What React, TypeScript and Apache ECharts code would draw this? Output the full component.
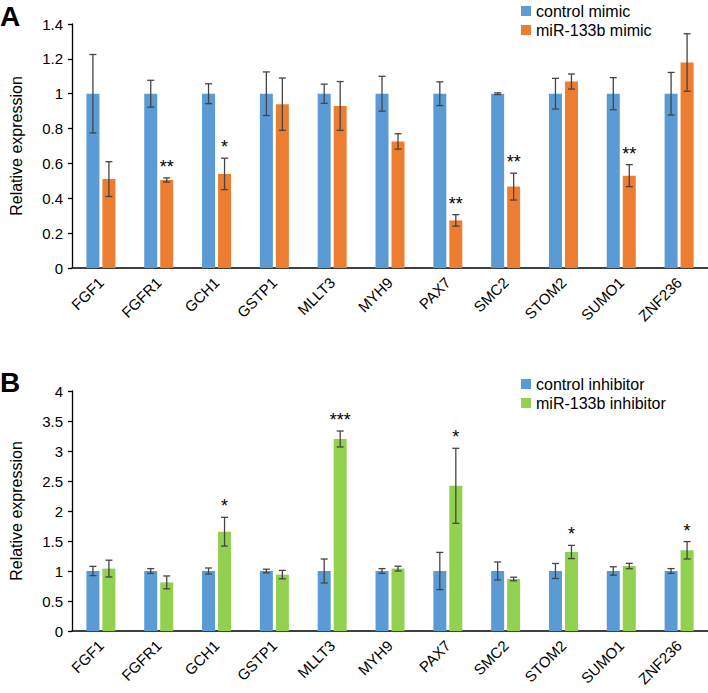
import React, { useEffect, useRef } from "react";
import * as echarts from "echarts";

const genes = ["FGF1", "FGFR1", "GCH1", "GSTP1", "MLLT3", "MYH9", "PAX7", "SMC2", "STOM2", "SUMO1", "ZNF236"];

// Panel A
const controlMimic = [1, 1, 1, 1, 1, 1, 1, 1, 1, 1, 1];
const controlMimicErr = [0.225, 0.077, 0.057, 0.125, 0.055, 0.1, 0.068, 0.005, 0.088, 0.092, 0.122];
const mimic = [0.51, 0.505, 0.54, 0.94, 0.93, 0.726, 0.273, 0.467, 1.07, 0.53, 1.179];
const mimicErr = [0.1, 0.012, 0.09, 0.15, 0.14, 0.044, 0.033, 0.077, 0.043, 0.063, 0.165];
const mimicStars = ["", "**", "*", "", "", "", "**", "**", "", "**", ""];

// Panel B
const controlInh = [1, 1, 1, 1, 1, 1, 1, 1, 1, 1, 1];
const controlInhErr = [0.077, 0.04, 0.05, 0.03, 0.2, 0.04, 0.31, 0.15, 0.125, 0.07, 0.04];
const inhibitor = [1.04, 0.81, 1.655, 0.94, 3.2, 1.04, 2.42, 0.867, 1.317, 1.083, 1.345];
const inhibitorErr = [0.14, 0.107, 0.24, 0.07, 0.133, 0.04, 0.625, 0.03, 0.11, 0.045, 0.145];
const inhibitorStars = ["", "", "*", "", "***", "", "*", "", "*", "", "*"];

const yTicksA = { min: 0, max: 1.4, interval: 0.2 };
const yTicksB = { min: 0, max: 4, interval: 0.5 };

const BLUE = "#5B9BD5";
const ORANGE = "#ED7D31";
const GREEN = "#92D050";
const FONT = "'Liberation Sans', Arial, Helvetica, sans-serif";
const BAR_W = 13;
const OFFSET = 8;

function errSeries(name: string, vals: number[], errs: number[], stars: string[], offset: number, axisIdx: number) {
  return {
    type: "custom",
    name,
    xAxisIndex: axisIdx,
    yAxisIndex: axisIdx,
    z: 10,
    silent: true,
    data: vals.map((v, i) => [i, v, errs[i]]),
    renderItem: (params: any, api: any) => {
      const idx = api.value(0);
      const v = api.value(1);
      const e = api.value(2);
      const c = api.coord([idx, v]);
      const x = c[0] + offset;
      const top = api.coord([idx, v + e])[1];
      const bot = api.coord([idx, v - e])[1];
      const stroke = { stroke: "#444", lineWidth: 1.3 };
      const children: any[] = [
        { type: "line", shape: { x1: x, y1: top, x2: x, y2: bot }, style: stroke },
        { type: "line", shape: { x1: x - 3.5, y1: top, x2: x + 3.5, y2: top }, style: stroke },
        { type: "line", shape: { x1: x - 3.5, y1: bot, x2: x + 3.5, y2: bot }, style: stroke },
      ];
      const s = stars[params.dataIndex];
      if (s) {
        children.push({
          type: "text",
          x,
          y: top - 2,
          style: { text: s, align: "center", verticalAlign: "bottom", fontSize: 18, fill: "#000", fontFamily: FONT },
        });
      }
      return { type: "group", children };
    },
  };
}

function xAxis(gridIndex: number) {
  return {
    type: "category",
    gridIndex,
    data: genes,
    axisLine: { show: true, lineStyle: { color: "#000", width: 1.5 } },
    axisTick: { show: false },
    axisLabel: { rotate: 45, fontSize: 15, color: "#000", margin: 12, fontFamily: FONT, interval: 0 },
  };
}

function yAxis(gridIndex: number, t: { min: number; max: number; interval: number }) {
  return {
    type: "value",
    gridIndex,
    min: t.min,
    max: t.max,
    interval: t.interval,
    name: "Relative expression",
    nameLocation: "middle",
    nameGap: 48,
    nameRotate: 90,
    nameTextStyle: { fontSize: 16, color: "#000", fontFamily: FONT },
    axisLine: { show: true, lineStyle: { color: "#000", width: 1.3 } },
    axisTick: { show: true, length: 4, lineStyle: { color: "#000", width: 1.3 } },
    splitLine: { show: false },
    axisLabel: { fontSize: 15, color: "#000", margin: 9, fontFamily: FONT },
  };
}

export default function App() {
  const ref = useRef<HTMLDivElement>(null);
  useEffect(() => {
    document.body.style.margin = "0";
    if (!ref.current) return;
    const chart = echarts.init(ref.current, undefined, { renderer: "svg" });
    chart.setOption({
      animation: false,
      textStyle: { fontFamily: FONT },
      grid: [
        { left: 71, right: 0, top: 24, height: 244 },
        { left: 71, right: 0, top: 391, height: 240 },
      ],
      legend: [
        {
          data: ["control mimic", "miR-133b mimic"],
          orient: "vertical",
          left: 516,
          top: -2,
          icon: "rect",
          itemWidth: 10,
          itemHeight: 10,
          itemGap: 3,
          textStyle: { fontSize: 16, color: "#000", fontFamily: FONT },
        },
        {
          data: ["control inhibitor", "miR-133b inhibitor"],
          orient: "vertical",
          left: 516,
          top: 371,
          icon: "rect",
          itemWidth: 10,
          itemHeight: 10,
          itemGap: 3,
          textStyle: { fontSize: 16, color: "#000", fontFamily: FONT },
        },
      ],
      xAxis: [xAxis(0), xAxis(1)],
      yAxis: [yAxis(0, yTicksA), yAxis(1, yTicksB)],
      graphic: [
        { type: "text", left: 0, top: 2, style: { text: "A", fontSize: 28, fontWeight: "bold", fill: "#000", fontFamily: FONT } },
        { type: "text", left: 0, top: 368, style: { text: "B", fontSize: 28, fontWeight: "bold", fill: "#000", fontFamily: FONT } },
      ],
      series: [
        { type: "bar", name: "control mimic", xAxisIndex: 0, yAxisIndex: 0, data: controlMimic, barWidth: BAR_W, barGap: "23%", itemStyle: { color: BLUE } },
        { type: "bar", name: "miR-133b mimic", xAxisIndex: 0, yAxisIndex: 0, data: mimic, barWidth: BAR_W, barGap: "23%", itemStyle: { color: ORANGE } },
        { type: "bar", name: "control inhibitor", xAxisIndex: 1, yAxisIndex: 1, data: controlInh, barWidth: BAR_W, barGap: "23%", itemStyle: { color: BLUE } },
        { type: "bar", name: "miR-133b inhibitor", xAxisIndex: 1, yAxisIndex: 1, data: inhibitor, barWidth: BAR_W, barGap: "23%", itemStyle: { color: GREEN } },
        errSeries("errA1", controlMimic, controlMimicErr, genes.map(() => ""), -OFFSET, 0),
        errSeries("errA2", mimic, mimicErr, mimicStars, OFFSET, 0),
        errSeries("errB1", controlInh, controlInhErr, genes.map(() => ""), -OFFSET, 1),
        errSeries("errB2", inhibitor, inhibitorErr, inhibitorStars, OFFSET, 1),
      ],
    });
    return () => chart.dispose();
  }, []);
  return <div ref={ref} style={{ width: 708, height: 693, position: "absolute", left: 0, top: 0 }} />;
}
